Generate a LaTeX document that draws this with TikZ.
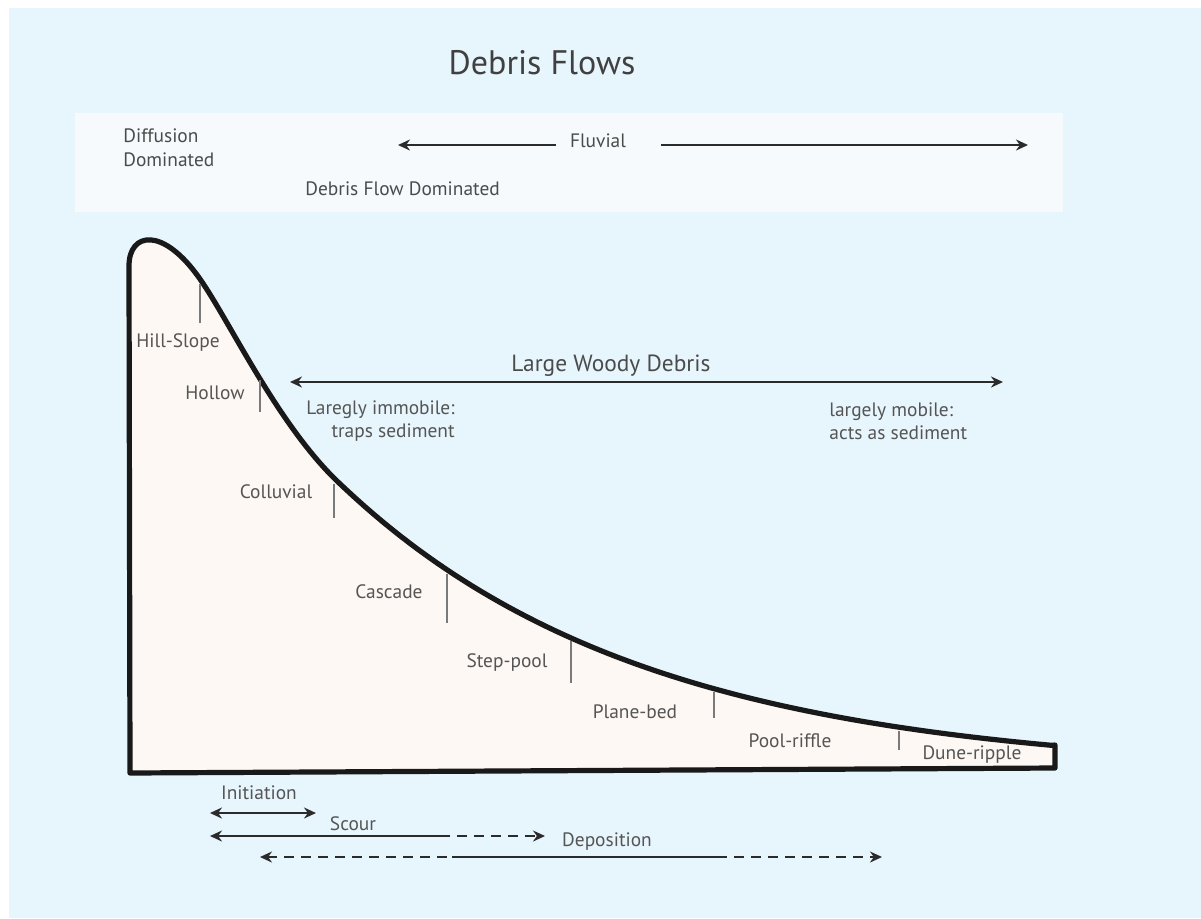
\documentclass[tikz,border=0pt]{standalone}
\usepackage{fontspec}
\setmainfont{PT Sans}
\usetikzlibrary{arrows.meta}
\definecolor{bg}{HTML}{E7F5FD}
\definecolor{panel}{HTML}{F6FAFD}
\definecolor{land}{HTML}{FDF8F3}
\definecolor{ink}{HTML}{2B2B2B}
\definecolor{lab}{HTML}{555555}
\definecolor{tick}{HTML}{7A7A7A}
\begin{document}
\begin{tikzpicture}[x=0.5pt,y=-0.5pt,
  tip/.tip={Stealth[length=6pt,width=5.5pt]},
  lbl/.style={inner sep=0pt,text=lab,font=\fontsize{9.7}{11.5}\selectfont},
  plbl/.style={inner sep=0pt,text=ink!85,font=\fontsize{9.7}{12}\selectfont},
  arr/.style={draw=ink,line width=1.3pt},
  dsh/.style={dash pattern=on 5pt off 3.5pt},
  ticky/.style={draw=tick,line width=0.9pt},
  outline/.style={draw=black!90,line width=2.6pt,fill=land,line join=round}]
\useasboundingbox (0,0) rectangle (1201,918);
\fill[white] (0,0) rectangle (1201,918);
\fill[bg] (9,8) rectangle (1201,918);
% panel
\fill[panel] (75,113) rectangle (1063,212);
% title
\node[inner sep=0pt,text=ink!90,font=\fontsize{17}{20}\selectfont] (title) at (542,63) {Debris Flows};
% panel texts
\node[plbl,anchor=west,align=left] (diff) at (123,148) {Diffusion\\Dominated};
\node[plbl] (fluv) at (598,141) {Fluvial};
\node[plbl,anchor=west] (dfd) at (305,189) {Debris Flow Dominated};
\coordinate (fl0) at (556,145);
\coordinate (fl1) at (398,145);
\coordinate (fr0) at (661,145);
\coordinate (fr1) at (1028,145);
\draw[arr,-{tip}] (fl0) -- (fl1);
\draw[arr,-{tip}] (fr0) -- (fr1);
% landform
\draw[outline] (130,773) -- (129,266)
  .. controls (129,232) and (163,226) .. (200,279)
  .. controls (230,322) and (277,423) .. (337,481)
  -- plot[domain=337:1052,samples=80] (\x,{773-292*exp(-0.0033*(\x-337))})
  -- (1055,745) -- (1055,768) -- (130,773) -- cycle;
% ticks
\coordinate (t1a) at (200,284); \coordinate (t1b) at (200,323);
\coordinate (t2a) at (260,380); \coordinate (t2b) at (260,412);
\coordinate (t3a) at (334,484); \coordinate (t3b) at (334,518);
\coordinate (t4a) at (447,574); \coordinate (t4b) at (447,623);
\coordinate (t5a) at (571,641); \coordinate (t5b) at (571,683);
\coordinate (t6a) at (714,692); \coordinate (t6b) at (714,718);
\coordinate (t7a) at (899,731); \coordinate (t7b) at (899,750);
\foreach \i in {1,...,7}{\draw[ticky] (t\i a) -- (t\i b);}
% zone labels
\node[lbl] (hs) at (178,343) {Hill-Slope};
\node[lbl] (ho) at (215,393) {Hollow};
\node[lbl] (co) at (276,492) {Colluvial};
\node[lbl] (ca) at (389,592) {Cascade};
\node[lbl] (sp) at (507,663) {Step-pool};
\node[lbl] (pb) at (635,712) {Plane-bed};
\node[lbl] (pr) at (790,741) {Pool-riffle};
\node[lbl] (dr) at (972,755) {Dune-ripple};
% large woody debris
\node[inner sep=0pt,text=ink!85,font=\fontsize{11.7}{14}\selectfont] (lwd) at (611,366) {Large Woody Debris};
\coordinate (w0) at (290,382);
\coordinate (w1) at (1003,382);
\draw[arr,line width=1.1pt,{tip}-{tip}] (w0) -- (w1);
\node[lbl,anchor=east,align=right] (imm) at (455,421) {Laregly immobile:\\traps sediment};
\node[lbl,anchor=west,align=left] (mob) at (829,421) {largely mobile:\\acts as sediment};
% bottom arrows
\node[lbl] (ini) at (259,793) {Initiation};
\coordinate (i0) at (210,813); \coordinate (i1) at (316,813);
\draw[arr,{tip}-{tip}] (i0) -- (i1);
\node[lbl] (sc) at (353,824) {Scour};
\coordinate (s0) at (210,836); \coordinate (s1) at (440,836); \coordinate (s2) at (545,836);
\draw[arr,{tip}-] (s0) -- (s1);
\draw[arr,dsh,-{tip}] (s1) -- (s2);
\node[lbl] (dep) at (607,842) {Deposition};
\coordinate (d0) at (260,857); \coordinate (d1) at (452,857); \coordinate (d2) at (717,857); \coordinate (d3) at (882,857);
\draw[arr,dsh,{tip}-] (d0) -- (d1);
\draw[arr] (d1) -- (d2);
\draw[arr,dsh,-{tip}] (d2) -- (d3);
\end{tikzpicture}
\end{document}
